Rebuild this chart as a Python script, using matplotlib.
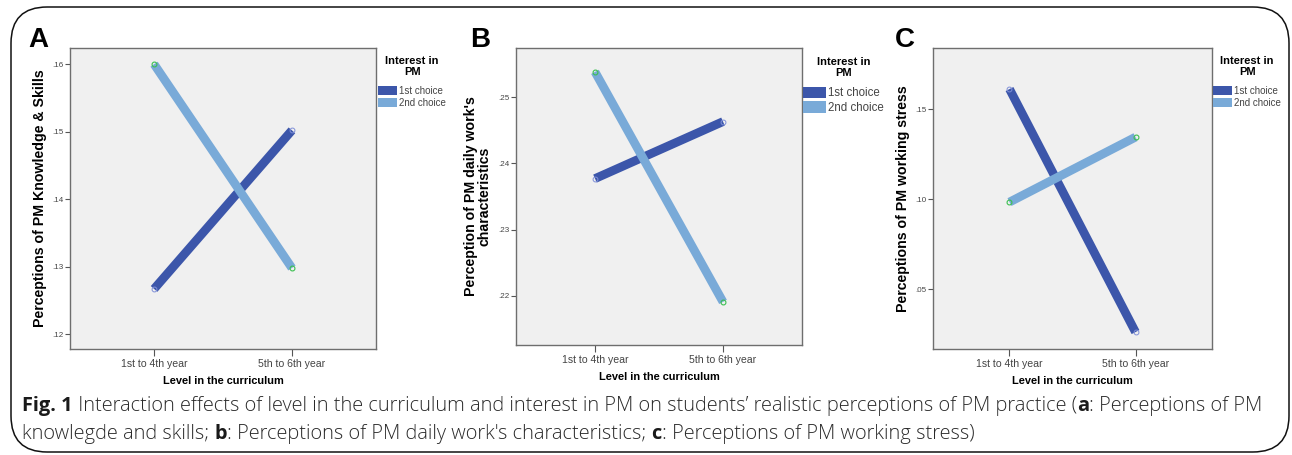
import matplotlib
matplotlib.use("Agg")
import matplotlib.pyplot as plt
from matplotlib.patches import Patch, FancyBboxPatch

# data
levels = ["1st to 4th year", "5th to 6th year"]
groups = ["1st choice", "2nd choice"]

a_first = [0.1267, 0.1502]
a_second = [0.1600, 0.1298]
a_ticks = [0.12, 0.13, 0.14, 0.15, 0.16]

b_first = [0.2377, 0.2463]
b_second = [0.2538, 0.2191]
b_ticks = [0.22, 0.23, 0.24, 0.25]

c_first = [0.1611, 0.0261]
c_second = [0.0983, 0.1344]
c_ticks = [0.05, 0.10, 0.15]

ylabels = ["Perceptions of PM Knowledge & Skills",
           "Perception of PM daily work's\ncharacteristics",
           "Perceptions of PM working stress"]
letters = ["A", "B", "C"]

plt.rcParams["font.family"] = ["Liberation Sans", "DejaVu Sans"]

W, H = 1292, 455
DARK = "#3C56AA"
LIGHT = "#79AAD8"

fig = plt.figure(figsize=(W / 100, H / 100), dpi=100)

# rounded frame around the whole figure
frame = FancyBboxPatch((11 / W, 3 / H), 1278 / W, 445 / H,
                       boxstyle="round,pad=0,rounding_size=0.028",
                       transform=fig.transFigure, fill=False,
                       ec="#111111", lw=1.1, mutation_aspect=W / H)
fig.patches.append(frame)


def px_axes(l, t, r, b):
    return fig.add_axes([l / W, 1 - b / H, (r - l) / W, (b - t) / H])


panels = [
    dict(box=(70, 48, 376, 349), first=a_first, second=a_second, ticks=a_ticks,
         ylim=(0.1178, 0.1624), margin=0.61, ylab_x=40, letter_x=28,
         leg=(378, 56), leg_fs=7),
    dict(box=(516, 48, 802, 345), first=b_first, second=b_second, ticks=b_ticks,
         ylim=(0.2126, 0.2574), margin=0.617, ylab_x=478, letter_x=470,
         leg=(803, 57), leg_fs=8.3),
    dict(box=(933, 48, 1212, 349), first=c_first, second=c_second, ticks=c_ticks,
         ylim=(0.0167, 0.1839), margin=0.607, ylab_x=903, letter_x=895,
         leg=(1213, 56), leg_fs=7),
]

for i, p in enumerate(panels):
    ax = px_axes(*p["box"])
    ax.set_facecolor("#F0F0F0")
    x = [0, 1]
    ax.plot(x, p["first"], color=DARK, lw=6.3, solid_capstyle="butt", zorder=3)
    ax.plot(x, p["second"], color=LIGHT, lw=6.3, solid_capstyle="butt", zorder=4)
    ax.plot(x, p["first"], ls="none", marker="o", ms=3.5, mfc="none",
            mec="#8090D8", mew=0.7, zorder=5)
    ax.plot(x, p["second"], ls="none", marker="o", ms=3.5, mfc="none",
            mec="#3CC050", mew=0.8, zorder=5)

    m = p["margin"]
    ax.set_xlim(-m, 1 + m)
    ax.set_ylim(*p["ylim"])
    ax.set_xticks(x)
    ax.set_xticklabels(levels, fontsize=7.6, color="#444444")
    ax.set_yticks(p["ticks"])
    ax.set_yticklabels([f"{v:.2f}".lstrip("0") for v in p["ticks"]],
                       fontsize=5.8, color="#444444")
    ax.tick_params(axis="x", length=5, width=0.8, color="#555555", pad=2)
    ax.tick_params(axis="y", length=3.5, width=0.8, color="#555555", pad=1)
    for s in ax.spines.values():
        s.set_color("#6E6E6E")
        s.set_linewidth(1.0)

    ax.set_xlabel("Level in the curriculum", fontsize=7.9, fontweight="bold",
                  labelpad=5)
    fig.text(p["ylab_x"] / W, 1 - ((p["box"][1] + p["box"][3]) / 2) / H,
             ylabels[i], rotation=90, ha="center", va="center",
             fontsize=10.2, fontweight="bold", linespacing=0.95)
    fig.text(p["letter_x"] / W, 1 - 47 / H, letters[i], fontsize=20,
             fontweight="bold", ha="left", va="baseline")

    handles = [Patch(facecolor=DARK, edgecolor="none"),
               Patch(facecolor=LIGHT, edgecolor="none")]
    lx, ly = p["leg"]
    leg = fig.legend(handles, groups, title="Interest in\nPM",
                     loc="upper left", bbox_to_anchor=(lx / W, 1 - ly / H),
                     frameon=False, fontsize=p["leg_fs"], handlelength=2.0,
                     handleheight=1.15, handletextpad=0.2, labelspacing=0.2,
                     borderaxespad=0, borderpad=0,
                     title_fontproperties={"size": 8, "weight": "bold"})
    leg.get_title().set_linespacing(1.15)
    leg.get_title().set_ha("center")
    leg._legend_box.sep = 6
    for t in leg.get_texts():
        t.set_color("#444444")

# caption with mixed bold / regular runs, placed piece by piece
cap_font = ["Open Sans", "DejaVu Sans"]
line1 = [("Fig. 1", "bold"),
         (" Interaction effects of level in the curriculum and interest in PM on students\u2019 realistic perceptions of PM practice (", "light"),
         ("a", "bold"), (": Perceptions of PM", "light")]
line2 = [("knowlegde and skills; ", "light"), ("b", "bold"),
         (": Perceptions of PM daily work's characteristics; ", "light"),
         ("c", "bold"), (": Perceptions of PM working stress)", "light")]

renderer = fig.canvas.get_renderer()


def draw_runs(runs, x0, y0, size):
    x = x0
    arts = []
    for txt, wt in runs:
        t = fig.text(x / W, 1 - y0 / H, txt, fontsize=size, fontweight=wt,
                     family=cap_font, color="#1A1A1A" if wt == "bold" else "#2A2A2A",
                     va="baseline", ha="left")
        ext = t.get_window_extent(renderer)
        x += ext.width
        arts.append(t)
    return x, arts


# fit the first line to its width in the reference
size = 12.0
end, arts = draw_runs(line1, 22, 411, size)
for a in arts:
    a.remove()
size = size * (1262 - 22) / (end - 22)
draw_runs(line1, 22, 411, size)
draw_runs(line2, 22, 439, size)

fig.savefig("out.png", dpi=100)
